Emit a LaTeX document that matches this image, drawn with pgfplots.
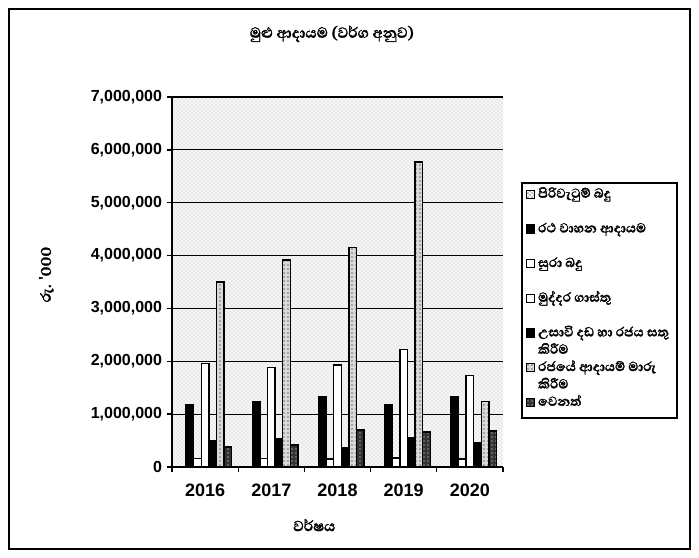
\documentclass[border=0pt]{standalone}
\usepackage{fontspec}
\setmainfont{Liberation Sans}
\newfontfamily\sinhala[Script=Sinhala, BoldFeatures={FakeBold=1.5}]{Abhaya Libre}
\usepackage{pgfplots}
\pgfplotsset{compat=1.18}
\usetikzlibrary{patterns}
\newcommand\lgtwo[2]{\vtop{\hbox{#1}\hbox{#2}}}

\begin{document}
\begin{tikzpicture}[x=0.75pt,y=0.75pt]
\useasboundingbox (0,0) rectangle (699,557);
\draw[line width=1pt] (9,8) rectangle (690,548);
\begin{axis}[
  at={(129pt,67.5pt)}, anchor=south west,
  width=248.25pt, height=277.5pt, scale only axis,
  ybar=0pt, bar width=5.7pt,
  xmin=-0.5, xmax=4.5, ymin=0, ymax=7000000,
  xtick={-0.5,0.5,...,4.5}, xticklabels={,,,,,},
  extra x ticks={0,1,2,3,4},
  extra x tick labels={2016,2017,2018,2019,2020},
  extra x tick style={major tick length=0pt, grid=none,
    xticklabel style={yshift=-9pt, font=\bfseries\fontsize{13.5}{15}\selectfont}},
  ytick={0,1000000,...,7000000},
  scaled y ticks=false,
  yticklabel style={font=\bfseries\fontsize{12}{14}\selectfont,
    /pgf/number format/.cd, fixed, 1000 sep={,}, precision=0, assume math mode=true},
  axis x line*=bottom, axis y line*=left,
  axis line style={line width=1.2pt},
  tick style={black, line width=1pt}, tick align=outside, major tick length=4pt,
  ymajorgrids, major grid style={black, line width=0.9pt},
  axis background/.style={fill=gray!8, postaction={pattern=crosshatch dots, pattern color=gray!45}},
  title={\sinhala\bfseries මුළු ආදායම (වර්ග අනුව)},
  title style={at={(0.483,1.149)}, anchor=center, font=\fontsize{14}{16}\selectfont},
  xlabel={\sinhala\bfseries වර්ෂය},
  xlabel style={at={(0.43,-0.157)}, anchor=center, font=\fontsize{14}{16}\selectfont},
  ylabel={\sinhala\bfseries රු. '000},
  ylabel style={at={(-0.38,0.52)}, anchor=center, font=\fontsize{14}{16}\selectfont},
  legend image code/.code={\draw[#1, line width=1pt] (0pt,-3pt) rectangle (6pt,3pt);},
  legend style={at={(1.057,0.768)}, anchor=north west, draw=none, fill=none,
    font=\sinhala\bfseries\fontsize{12.5}{13}\selectfont, row sep=13pt,
    nodes={text height=7pt, text depth=2pt, inner sep=2pt},
    cells={anchor=west}},
  legend cell align=left,
]
\addplot[draw=black, line width=1.1pt, fill=white, postaction={pattern=crosshatch dots}] coordinates {(0,0) (1,0) (2,0) (3,0) (4,0)};
\addplot[draw=black, line width=1.1pt, fill=black] coordinates {(0,1170000) (1,1240000) (2,1330000) (3,1180000) (4,1330000)};
\addplot[draw=black, line width=1.1pt, fill=white] coordinates {(0,160000) (1,160000) (2,150000) (3,170000) (4,150000)};
\addplot[draw=black, line width=1.1pt, fill=white] coordinates {(0,1960000) (1,1880000) (2,1930000) (3,2220000) (4,1730000)};
\addplot[draw=black, line width=1.1pt, fill=black] coordinates {(0,490000) (1,540000) (2,360000) (3,550000) (4,460000)};
\addplot[draw=black, line width=1.1pt, fill=gray!30, postaction={pattern=dots}] coordinates {(0,3500000) (1,3920000) (2,4150000) (3,5770000) (4,1240000)};
\addplot[draw=black, line width=1.1pt, fill=black!80, postaction={pattern=dots, pattern color=white}] coordinates {(0,380000) (1,420000) (2,700000) (3,660000) (4,680000)};
\addlegendentry{පිරිවැටුම් බදු}
\addlegendentry{රථ වාහන ආදායම}
\addlegendentry{සුරා බදු}
\addlegendentry{මුද්දර ගාස්තු}
\addlegendentry{\lgtwo{උසාවි දඩ හා රජය සතු}{කිරීම}}
\addlegendentry{\lgtwo{රජයේ ආදායම් මාරු}{කිරීම}}
\addlegendentry{වෙනත්}
\end{axis}
% legend frame
\draw[line width=0.8pt] (522,139) rectangle (677,374);
\end{tikzpicture}
\end{document}
